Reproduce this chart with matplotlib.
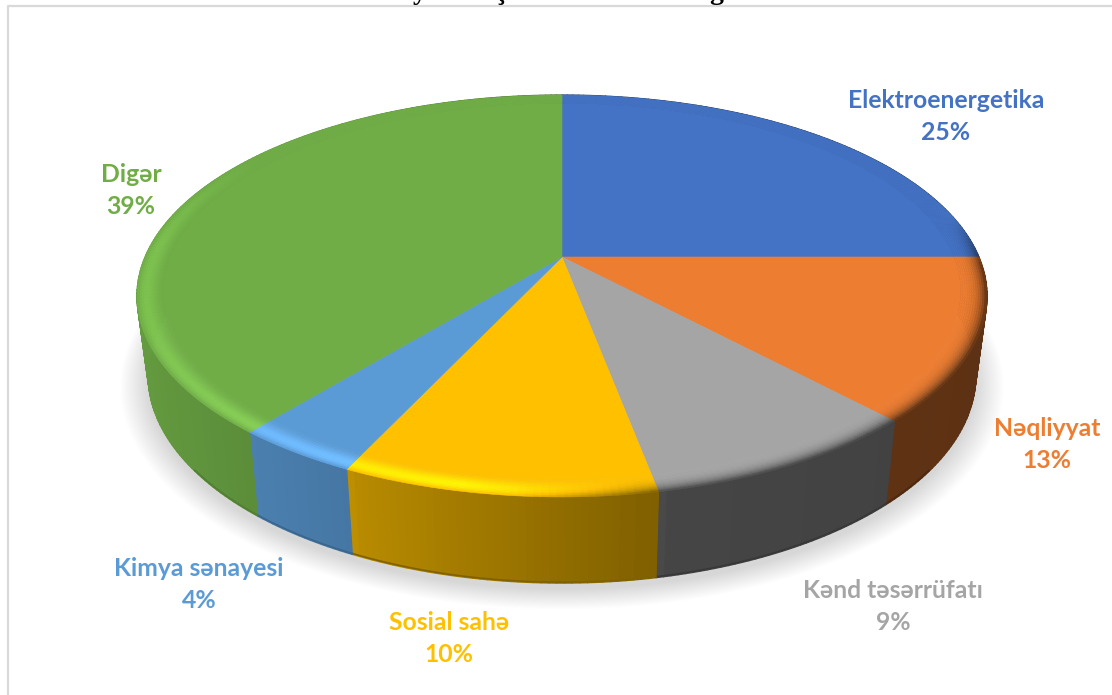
import numpy as np
import matplotlib
matplotlib.use("Agg")
import matplotlib.pyplot as plt
from matplotlib.collections import PolyCollection
from matplotlib.colors import to_rgb

categories = ["Elektroenergetika", "Nəqliyyat", "Kənd təsərrüfatı", "Sosial sahə", "Kimya sənayesi", "Digər"]
values = [25, 13, 9, 10, 4, 39]
colors = ["#4472C4", "#ED7D31", "#A5A5A5", "#FFC000", "#5B9BD5", "#70AD47"]

# label centres in pixels (layout only)
label_x = [946, 1047, 893, 449, 199, 131]
label_y = [101, 428, 590, 622, 568, 174]

plt.rcParams["font.family"] = ["Lato", "Noto Sans", "DejaVu Sans"]

W, H = 1112, 695
fig = plt.figure(figsize=(W / 100, H / 100), dpi=100)
ax = fig.add_axes([0, 0, 1, 1])
ax.set_xlim(0, W)
ax.set_ylim(H, 0)
ax.axis("off")

# perspective of the disc: far edge is smaller than the near edge
K = 0.194
CX = 562


def project(theta, r, cy, a, b):
    """theta clockwise from 12 o'clock, r 0..1, returns pixel x,y"""
    u = r * np.sin(theta)
    v = -r * np.cos(theta)
    w = 1 - K * v
    return CX + a * u / w, cy + b * v / w


def top(theta, r=1.0):
    return project(theta, r, 257, 417, 193.4)


def bottom(theta, r=1.0):
    return project(theta, r, 335, 406, 200)


def side_shade(theta):
    return np.interp(np.sin(theta), [-1, -0.64, -0.43, -0.41, 0.18, 0.2, 1],
                     [0.9, 0.82, 0.77, 0.72, 0.5, 0.42, 0.39])


def rim_tone(theta, t):
    """brightness factor on the bevel, t = 0 inner edge, t = 1 outer edge"""
    u = np.sin(theta)
    v = -np.cos(theta)
    light = np.interp(u, [-1, -0.2, 0.15, 1], [0.12, 0.28, 0.0, 0.0]) * np.interp(v, [-0.55, -0.05], [0.0, 1.0])
    dark = np.interp(u, [-0.1, 0.2, 0.6], [0.0, 0.55, 0.62]) * np.interp(v, [-0.2, 0.05], [0.0, 1.0])
    return (1 + light * np.sin(np.pi * t ** 1.6)) * (1 - dark * t ** 3.0)


edges = 2 * np.pi * np.cumsum([0] + values) / np.sum(values)

# frame
ax.plot([8, 8, W], [H, 5.5, 5.5], color="#D9D9D9", lw=1.6, zorder=1, solid_capstyle="butt")

# soft shadow under the disc
circle = np.linspace(0, 2 * np.pi, 361)
for grow in np.linspace(1.065, 1.0, 40):
    sx, sy = project(circle, grow, 341, 406, 200)
    ax.fill(sx, sy, color="black", alpha=0.0045, lw=0, zorder=2)

# sides
for i, color in enumerate(colors):
    base = np.array(to_rgb(color))
    th = np.linspace(edges[i], edges[i + 1], int(values[i] * 4) + 2)
    polys, faces = [], []
    for a0, a1 in zip(th[:-1], th[1:]):
        x0, y0 = top(a0)
        x1, y1 = top(a1)
        x2, y2 = bottom(a1)
        x3, y3 = bottom(a0)
        polys.append([(x0, y0), (x1, y1), (x2, y2), (x3, y3)])
        faces.append(np.clip(base * side_shade((a0 + a1) / 2), 0, 1))
    ax.add_collection(PolyCollection(polys, facecolors=faces, edgecolors=faces, linewidths=0.9, zorder=3))
    # thin dark lip along the lower edge
    bx, by = bottom(th)
    front = np.cos(th) < -0.6
    lip = np.clip(base * side_shade(th.mean()) * 0.82, 0, 1)
    ax.plot(np.where(front, bx, np.nan), np.where(front, by - 1, np.nan), color=lip, lw=1.2, zorder=3.5)

# top faces with bevel
R_IN = 0.94
for i, color in enumerate(colors):
    base = np.array(to_rgb(color))
    th = np.linspace(edges[i], edges[i + 1], int(values[i] * 4) + 2)
    fx, fy = top(th, R_IN)
    ax.fill(np.r_[CX, fx], np.r_[257, fy], color=color, lw=0.4, zorder=4)
    polys, faces = [], []
    rings = np.linspace(R_IN, 1, 13)
    for r0, r1 in zip(rings[:-1], rings[1:]):
        t = (r0 + r1) / 2
        t = (t - R_IN) / (1 - R_IN)
        for a0, a1 in zip(th[:-1], th[1:]):
            x0, y0 = top(a0, r0)
            x1, y1 = top(a1, r0)
            x2, y2 = top(a1, r1)
            x3, y3 = top(a0, r1)
            polys.append([(x0, y0), (x1, y1), (x2, y2), (x3, y3)])
            faces.append(np.clip(base * rim_tone((a0 + a1) / 2, t), 0, 1))
    ax.add_collection(PolyCollection(polys, facecolors=faces, edgecolors=faces, linewidths=0.4, zorder=5))

# data labels
for name, val, color, x, y in zip(categories, values, colors, label_x, label_y):
    ax.text(x, y, name, color=color, fontsize=17.8, fontweight="bold", ha="center", va="center", zorder=6)
    ax.text(x, y + 32, f"{val}%", color=color, fontsize=17.8, fontweight="bold", ha="center", va="center", zorder=6)

# title is cut off by the crop, only the descenders show
for ch, x in zip(["y", "ş", "g"], [420, 500, 716]):
    ax.text(x, -1, ch, color="black", fontsize=20, fontweight="bold", family=["Liberation Serif"],
            ha="center", va="baseline", clip_on=False, zorder=6)

fig.savefig("out.png", dpi=100)
